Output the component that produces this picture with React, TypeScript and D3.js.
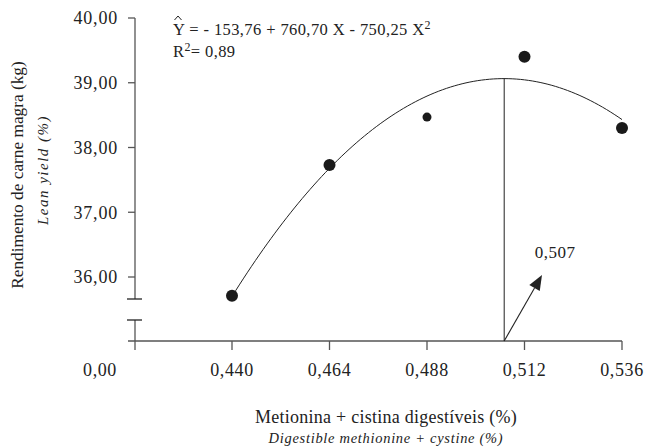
import React from "react";
import * as d3 from "d3";

const xTicks = [0.44, 0.464, 0.488, 0.512, 0.536];
const xTickLabels = ["0,440", "0,464", "0,488", "0,512", "0,536"];
const yTicks = [36, 37, 38, 39, 40];
const yTickLabels = ["36,00", "37,00", "38,00", "39,00", "40,00"];
const levels = [0.44, 0.464, 0.488, 0.512, 0.536];
const leanYield = [35.71, 37.73, 38.47, 39.4, 38.3];
const coef = [-153.76, 760.7, -750.25];
const optimum = 0.507;
const optimumLabel = "0,507";

const W = 646;
const H = 447;
const axisX = 135;
const baseY = 341;
const ink = "#222";
const axisCol = "#555";
const font = "Liberation Serif";

const f = (v: number) => coef[0] + coef[1] * v + coef[2] * v * v;

export default function App() {
  const x = d3.scaleLinear().domain([0.44, 0.536]).range([232, 622]);
  const y = d3.scaleLinear().domain([36, 40]).range([277, 18]);

  const samples = d3.range(0, 101).map((i) => 0.44 + (0.096 * i) / 100);
  const curve = d3
    .line<number>()
    .x((v) => x(v))
    .y((v) => y(f(v)))(samples) as string;

  const ox = x(optimum);
  const oy = y(f(optimum));
  const tipX = 542;
  const tipY = 275;
  const ang = Math.atan2(tipY - baseY, tipX - ox);
  const hl = 15;
  const hw = 6;
  const bx = tipX - hl * Math.cos(ang);
  const by = tipY - hl * Math.sin(ang);
  const px = -Math.sin(ang);
  const py = Math.cos(ang);
  const head = `M${tipX},${tipY}L${bx + hw * px},${by + hw * py}L${bx - hw * px},${by - hw * py}Z`;

  const breakTop = 299;
  const breakBottom = 320;
  const ts = { fontFamily: font };

  return (
    <svg
      width={W}
      height={H}
      style={{ position: "absolute", left: 0, top: 0, background: "#fff", fontFamily: font }}
    >
      {/* Y axis with break */}
      <line x1={axisX} x2={axisX} y1={y(40)} y2={breakTop} stroke={axisCol} strokeWidth={1.3} />
      <line x1={axisX} x2={axisX} y1={breakBottom} y2={baseY + 9} stroke={axisCol} strokeWidth={1.3} />
      <line x1={axisX - 8} x2={axisX + 7} y1={breakTop} y2={breakTop} stroke={ink} strokeWidth={1.3} />
      <line x1={axisX - 8} x2={axisX + 7} y1={breakBottom} y2={breakBottom} stroke={ink} strokeWidth={1.3} />
      {yTicks.map((t, i) => (
        <g key={t}>
          <line x1={axisX - 7} x2={axisX} y1={y(t)} y2={y(t)} stroke={axisCol} strokeWidth={1.3} />
          <text x={118} y={y(t)} dy="0.35em" textAnchor="end" fontSize={18} fill={ink} letterSpacing={0.8} style={ts}>
            {yTickLabels[i]}
          </text>
        </g>
      ))}

      {/* X axis */}
      <line x1={axisX - 7} x2={x(0.536)} y1={baseY} y2={baseY} stroke={axisCol} strokeWidth={1.3} />
      {xTicks.map((t, i) => (
        <g key={t}>
          <line x1={x(t)} x2={x(t)} y1={baseY} y2={baseY + 9} stroke={axisCol} strokeWidth={1.3} />
          <text x={x(t)} y={370} dy="0.35em" textAnchor="middle" fontSize={18} fill={ink} letterSpacing={0.6} style={ts}>
            {xTickLabels[i]}
          </text>
        </g>
      ))}
      <text x={100} y={370} dy="0.35em" textAnchor="middle" fontSize={18} fill={ink} letterSpacing={0.6} style={ts}>
        0,00
      </text>

      {/* fitted curve */}
      <path d={curve} fill="none" stroke={ink} strokeWidth={1} />

      {/* optimum line + arrow */}
      <line x1={ox} x2={ox} y1={oy} y2={baseY} stroke={ink} strokeWidth={1} />
      <line x1={ox} y1={baseY} x2={bx} y2={by} stroke={ink} strokeWidth={1.1} />
      <path d={head} fill={ink} />
      <text x={555} y={252} dy="0.35em" textAnchor="middle" fontSize={17} fill={ink} letterSpacing={0.5} style={ts}>
        {optimumLabel}
      </text>

      {/* points */}
      {levels.map((v, i) => (
        <circle key={v} cx={x(v)} cy={y(leanYield[i])} r={i === 2 ? 4.5 : 6} fill="#1a1a1a" />
      ))}

      {/* equation */}
      <path d="M174.5,20 L178,16 L181.5,20" fill="none" stroke={ink} strokeWidth={1} />
      <text x={173} y={35} fontSize={16.5} fill={ink} letterSpacing={0.4} style={ts}>
        Y = - 153,76 + 760,70 X - 750,25 X
        <tspan fontSize={12} dy={-6}>2</tspan>
      </text>
      <text x={173} y={57} fontSize={16.5} fill={ink} letterSpacing={0.4} style={ts}>
        R<tspan fontSize={12} dy={-6}>2</tspan>
        <tspan dy={6}>= 0,89</tspan>
      </text>

      {/* axis titles */}
      <text
        transform={`translate(23,175) rotate(-90)`}
        textAnchor="middle"
        fontSize={17.3}
        fill={ink}
        style={ts}
      >
        Rendimento de carne magra (kg)
      </text>
      <text
        transform={`translate(48,170) rotate(-90)`}
        textAnchor="middle"
        fontSize={15}
        fontStyle="italic"
        fill={ink}
        letterSpacing={1.5}
        style={ts}
      >
        Lean yield (%)
      </text>
      <text x={386} y={423} textAnchor="middle" fontSize={18} fill={ink} letterSpacing={0.25} style={ts}>
        Metionina + cistina digestíveis (%)
      </text>
      <text x={386} y={443} textAnchor="middle" fontSize={14.5} fontStyle="italic" fill={ink} letterSpacing={0.7} style={ts}>
        Digestible methionine + cystine (%)
      </text>
    </svg>
  );
}
